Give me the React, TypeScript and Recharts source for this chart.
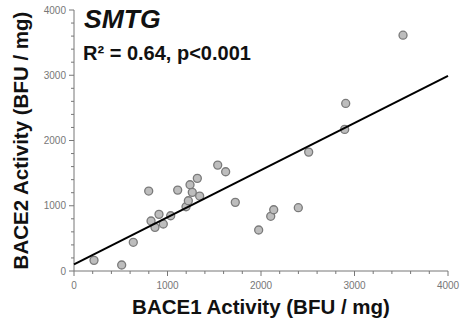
import { ScatterChart, Scatter, XAxis, YAxis, Label } from "recharts"

const FONT = "'Liberation Sans', Arial, sans-serif"
const AXIS = "#777"

// BACE1 (x) vs BACE2 (y), BFU / mg
const bace1 = [214, 510, 634, 799, 824, 866, 909, 955, 1034, 1109, 1198, 1223, 1241, 1265, 1319, 1344, 1537, 1622, 1725, 1975, 2104, 2136, 2399, 2510, 2895, 2906, 3519]
const bace2 = [163, 92, 440, 1225, 766, 669, 868, 720, 847, 1240, 985, 1077, 1322, 1205, 1420, 1149, 1623, 1521, 1052, 628, 838, 939, 970, 1822, 2170, 2568, 3614]

// linear fit end points
const fitX = [0, 4000]
const fitY = [100, 2990]

const xTicks = [0, 200, 400, 600, 800, 1000, 1200, 1400, 1600, 1800, 2000, 2200, 2400, 2600, 2800, 3000, 3200, 3400, 3600, 3800, 4000]
const yTicks = [0, 200, 400, 600, 800, 1000, 1200, 1400, 1600, 1800, 2000, 2200, 2400, 2600, 2800, 3000, 3200, 3400, 3600, 3800, 4000]

const points = bace1.map((x, i) => ({ x, y: bace2[i] }))
const fit = fitX.map((x, i) => ({ x, y: fitY[i] }))

const XTick = ({ x, y, payload }: any) => {
  const major = payload.value % 1000 === 0
  return (
    <g>
      <line x1={x} x2={x} y1={y} y2={y + (major ? 5 : 3)} stroke={AXIS} />
      {major && (
        <text x={x} y={y + 18} textAnchor="middle" fontSize={10} fill={AXIS} fontFamily={FONT}>
          {payload.value}
        </text>
      )}
    </g>
  )
}

const YTick = ({ x, y, payload }: any) => {
  const major = payload.value % 1000 === 0
  return (
    <g>
      <line x1={x} x2={x - (major ? 5 : 3)} y1={y} y2={y} stroke={AXIS} />
      {major && (
        <text x={x - 8} y={y + 3.5} textAnchor="end" fontSize={10} fill={AXIS} fontFamily={FONT}>
          {payload.value}
        </text>
      )}
    </g>
  )
}

const Dot = ({ cx, cy }: any) => (
  <circle cx={cx} cy={cy} r={4} fill="#bdbdbd" stroke="#7a7a7a" strokeWidth={1.3} />
)

export default function App() {
  return (
    <div style={{ position: "absolute", left: 0, top: 0 }}>
      <ScatterChart width={460} height={328} margin={{ top: 10, right: 12, bottom: 0, left: 0 }}>
        <XAxis
          type="number"
          dataKey="x"
          domain={[0, 4000]}
          ticks={xTicks}
          interval={0}
          tickSize={0}
          tickMargin={0}
          tickLine={false}
          tick={<XTick />}
          height={57}
          stroke={AXIS}
        >
          <Label
            content={({ viewBox }: any) => (
              <text
                x={viewBox.x + viewBox.width / 2}
                y={314}
                textAnchor="middle"
                fontSize={20.5}
                fontWeight="bold"
                fontFamily={FONT}
                fill="#111"
              >
                BACE1 Activity (BFU / mg)
              </text>
            )}
          />
        </XAxis>
        <YAxis
          type="number"
          dataKey="y"
          domain={[0, 4000]}
          ticks={yTicks}
          interval={0}
          tickSize={0}
          tickMargin={0}
          tickLine={false}
          tick={<YTick />}
          width={74}
          stroke={AXIS}
        >
          <Label
            content={({ viewBox }: any) => {
              const cy = viewBox.y + viewBox.height / 2
              return (
                <text
                  x={28}
                  y={cy}
                  transform={`rotate(-90 28 ${cy})`}
                  textAnchor="middle"
                  fontSize={20.5}
                  fontWeight="bold"
                  fontFamily={FONT}
                  fill="#111"
                >
                  BACE2 Activity (BFU / mg)
                </text>
              )
            }}
          />
        </YAxis>
        <Scatter data={points} shape={<Dot />} isAnimationActive={false} />
        <Scatter
          data={fit}
          line={{ stroke: "#000", strokeWidth: 2 }}
          shape={() => <g />}
          isAnimationActive={false}
        />
        <text x={84} y={28} fontSize={26.5} fontWeight="bold" fontStyle="italic" fontFamily={FONT} fill="#111">
          SMTG
        </text>
        <text x={83} y={60} fontSize={20} fontWeight="bold" fontFamily={FONT} fill="#111">
          R² = 0.64, p&lt;0.001
        </text>
      </ScatterChart>
    </div>
  )
}
